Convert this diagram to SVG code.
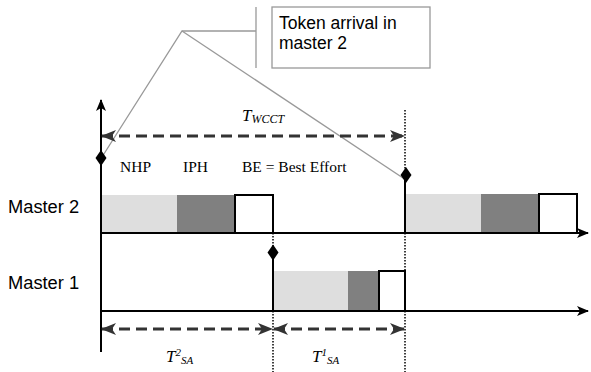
<svg xmlns="http://www.w3.org/2000/svg" width="591" height="372" viewBox="0 0 591 372">
  <style>
    .axis { stroke: #000; stroke-width: 2; fill: none; }
    .dim { stroke: #333; stroke-width: 3; stroke-dasharray: 11 6; fill: none; }
    .dot { stroke: #000; stroke-width: 1.5; stroke-dasharray: 1.5 1.5; fill: none; }
    .call { stroke: #999; stroke-width: 1.3; fill: none; }
    .light { fill: #dedede; }
    .dark { fill: #808080; }
    .be { fill: #fff; stroke: #000; stroke-width: 2; }
    .edge { stroke: #000; stroke-width: 2; }
    .sans { font-family: "Liberation Sans", Arial, sans-serif; font-size: 17.5px; fill: #000; }
    .lane { font-size: 18.3px; }
    .serif { font-family: "Liberation Serif", "Times New Roman", serif; font-size: 15.5px; fill: #000; }
    .it { font-family: "Liberation Serif", "Times New Roman", serif; font-style: italic; fill: #000; }
  </style>
  <defs>
    <marker id="axhead" viewBox="0 0 12 10" refX="11" refY="5" markerWidth="12" markerHeight="10" markerUnits="userSpaceOnUse" orient="auto">
      <path d="M0,0 L12,5 L0,10 L3,5 Z" fill="#000"/>
    </marker>
    <marker id="dimhead" viewBox="0 0 15 12" refX="14" refY="6" markerWidth="15" markerHeight="12" markerUnits="userSpaceOnUse" orient="auto-start-reverse">
      <path d="M0,0 L15,6 L0,12 L4,6 Z" fill="#333"/>
    </marker>
  </defs>

  <!-- callout: token arrival in master 2 -->
  <g id="callout">
    <rect x="272" y="7" width="158" height="61" fill="#fff" stroke="#999" stroke-width="1.3"/>
    <text class="sans" x="279" y="29">Token arrival in</text>
    <text class="sans" x="279" y="49">master 2</text>
    <line class="call" x1="256" y1="7" x2="256" y2="68"/>
    <polyline class="call" points="102,157 182,31 256,31"/>
    <line class="call" x1="182" y1="31" x2="406" y2="180"/>
  </g>

  <!-- frame slots of master 2 -->
  <g id="master2">
    <text class="sans lane" x="8" y="213">Master 2</text>
    <rect class="light" x="101" y="195" width="76" height="38"/>
    <rect class="dark" x="177" y="195" width="57" height="38"/>
    <rect class="be" x="235" y="195" width="38" height="38"/>
    <rect class="light" x="405" y="194" width="76" height="39"/>
    <rect class="dark" x="481" y="194" width="58" height="39"/>
    <rect class="be" x="539" y="194" width="38" height="39"/>
    <line class="edge" x1="405" y1="178" x2="405" y2="233"/>
  </g>

  <!-- frame slots of master 1 -->
  <g id="master1">
    <text class="sans lane" x="8" y="289">Master 1</text>
    <rect class="light" x="273" y="271" width="75" height="40"/>
    <rect class="dark" x="348" y="271" width="31" height="40"/>
    <rect class="be" x="379" y="271" width="26" height="40"/>
    <line class="edge" x1="273" y1="258" x2="273" y2="311"/>
  </g>

  <!-- legend -->
  <g id="legend">
    <text class="serif" x="120" y="172">NHP</text>
    <text class="serif" x="183" y="172">IPH</text>
    <text class="serif" x="242" y="172">BE = Best Effort</text>
  </g>

  <!-- axes, time marks and intervals -->
  <g id="connectors">
    <line class="axis" x1="101" y1="352" x2="101" y2="100" marker-end="url(#axhead)"/>
    <line class="axis" x1="101" y1="233" x2="588" y2="233" marker-end="url(#axhead)"/>
    <line class="axis" x1="101" y1="311" x2="588" y2="311" marker-end="url(#axhead)"/>

    <line class="dot" x1="405" y1="110" x2="405" y2="372"/>
    <line class="dot" x1="273" y1="233" x2="273" y2="372"/>

    <line class="dim" x1="102" y1="136" x2="404" y2="136" marker-start="url(#dimhead)" marker-end="url(#dimhead)"/>
    <line class="dim" x1="102" y1="329" x2="272" y2="329" marker-start="url(#dimhead)" marker-end="url(#dimhead)"/>
    <line class="dim" x1="274" y1="329" x2="404" y2="329" marker-start="url(#dimhead)" marker-end="url(#dimhead)"/>

    <path d="M101,150 L106.5,158 L101,166 L95.5,158 Z" fill="#000"/>
    <path d="M406,167 L411.5,175 L406,183 L400.5,175 Z" fill="#000"/>
    <path d="M273,244.5 L278.5,252.5 L273,260.5 L267.5,252.5 Z" fill="#000"/>
  </g>

  <!-- interval labels -->
  <g id="labels">
    <text class="it" x="242" y="121" font-size="17">T<tspan font-size="12" dy="2">WCCT</tspan></text>
    <text class="it" x="166" y="362" font-size="17">T<tspan font-size="11" dy="-6">2</tspan><tspan font-size="11" dy="8">SA</tspan></text>
    <text class="it" x="312" y="362" font-size="17">T<tspan font-size="11" dy="-6">1</tspan><tspan font-size="11" dy="8">SA</tspan></text>
  </g>
</svg>
